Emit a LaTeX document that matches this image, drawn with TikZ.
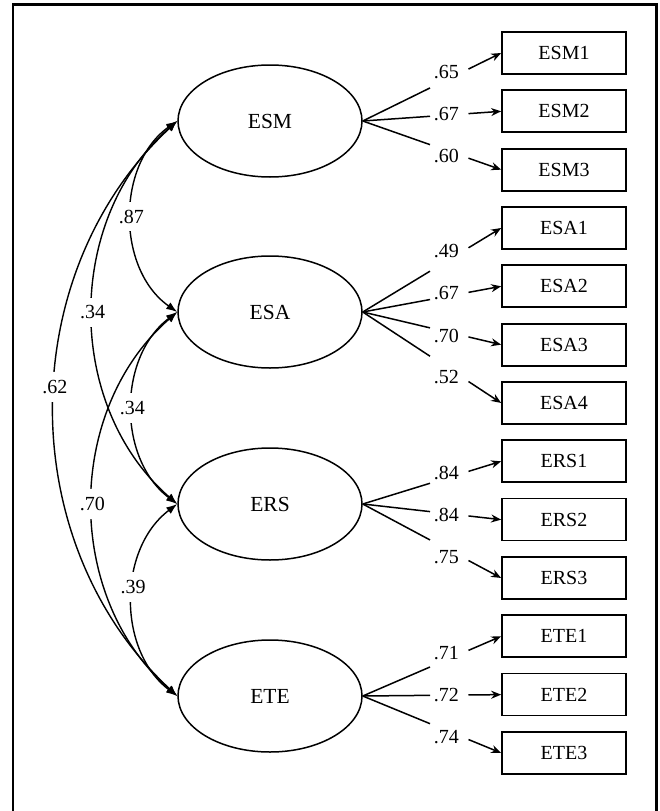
\documentclass[tikz,border=0pt]{standalone}
\usepackage{fontspec}
\setmainfont{Liberation Serif}
\usetikzlibrary{shapes.geometric,arrows.meta,calc}
\begin{document}
\begin{tikzpicture}[x=1pt,y=-1pt,
  lat/.style={ellipse,draw,line width=1.5pt,minimum width=184pt,minimum height=112pt,inner sep=0pt,font=\fontsize{21.5}{24}\selectfont},
  obs/.style={rectangle,draw,line width=1.7pt,minimum width=124pt,minimum height=42pt,inner sep=0pt,font=\fontsize{20}{24}\selectfont},
  lbl/.style={font=\fontsize{20}{24}\selectfont,inner sep=1.5pt},
  covlbl/.style={font=\fontsize{20}{24}\selectfont,fill=white,inner xsep=1pt,inner ysep=8pt},
  cov/.style={line width=1.4pt,{Latex[length=11pt,width=8pt]}-{Latex[length=11pt,width=8pt]}},
  load/.style={line width=1.5pt},
  loadarr/.style={line width=1.5pt,-{Stealth[length=10pt,width=8pt]}},
  frameline/.style={line width=2.2pt}
]
\useasboundingbox (0,0) rectangle (659,811);
\draw[frameline] (12.7,811) -- (12.7,4.5) -- (656.5,4.5) -- (656.5,811);

\node[lat] (ESM) at (270,121) {ESM};
\node[lat] (ESA) at (270,312) {ESA};
\node[lat] (ERS) at (270,504) {ERS};
\node[lat] (ETE) at (270,696) {ETE};

\foreach \n [count=\i from 0] in {ESM1,ESM2,ESM3,ESA1,ESA2,ESA3,ESA4,ERS1,ERS2,ERS3,ETE1,ETE2,ETE3}
  \node[obs] (\n) at (564,{53+58.33*\i}) {\n};

\foreach \f/\b/\v in {ESM/ESM1/.65,ESM/ESM2/.67,ESM/ESM3/.60,
                      ESA/ESA1/.49,ESA/ESA2/.67,ESA/ESA3/.70,ESA/ESA4/.52,
                      ERS/ERS1/.84,ERS/ERS2/.84,ERS/ERS3/.75,
                      ETE/ETE1/.71,ETE/ETE2/.72,ETE/ETE3/.74}{
  \path (\f.east) -- (\b.west) coordinate[pos=0.486] (s1) coordinate[pos=0.764] (s2) coordinate[pos=0.72] (s3);
  \draw[load] (\f.east) -- (s1);
  \draw[loadarr] (s2) -- (\b.west);
  \node[lbl] (L\b) at ([xshift=-16pt]s3) {\v};
}

\draw[cov] (ESM.west) to[bend right=55] node[covlbl,pos=0.5] (c1) {.87} (ESA.west);
\draw[cov] (ESM.west) to[bend right=49] node[covlbl,pos=0.5] (c2) {.34} (ERS.west);
\draw[cov] (ESM.west) to[bend right=47] node[covlbl,pos=0.466] (c3) {.62} (ETE.west);
\draw[cov] (ESA.west) to[bend right=53] node[covlbl,pos=0.5] (c4) {.34} (ERS.west);
\draw[cov] (ESA.west) to[bend right=49] node[covlbl,pos=0.5] (c5) {.70} (ETE.west);
\draw[cov] (ERS.west) to[bend right=53] node[covlbl,pos=0.44] (c6) {.39} (ETE.west);
\end{tikzpicture}
\end{document}
